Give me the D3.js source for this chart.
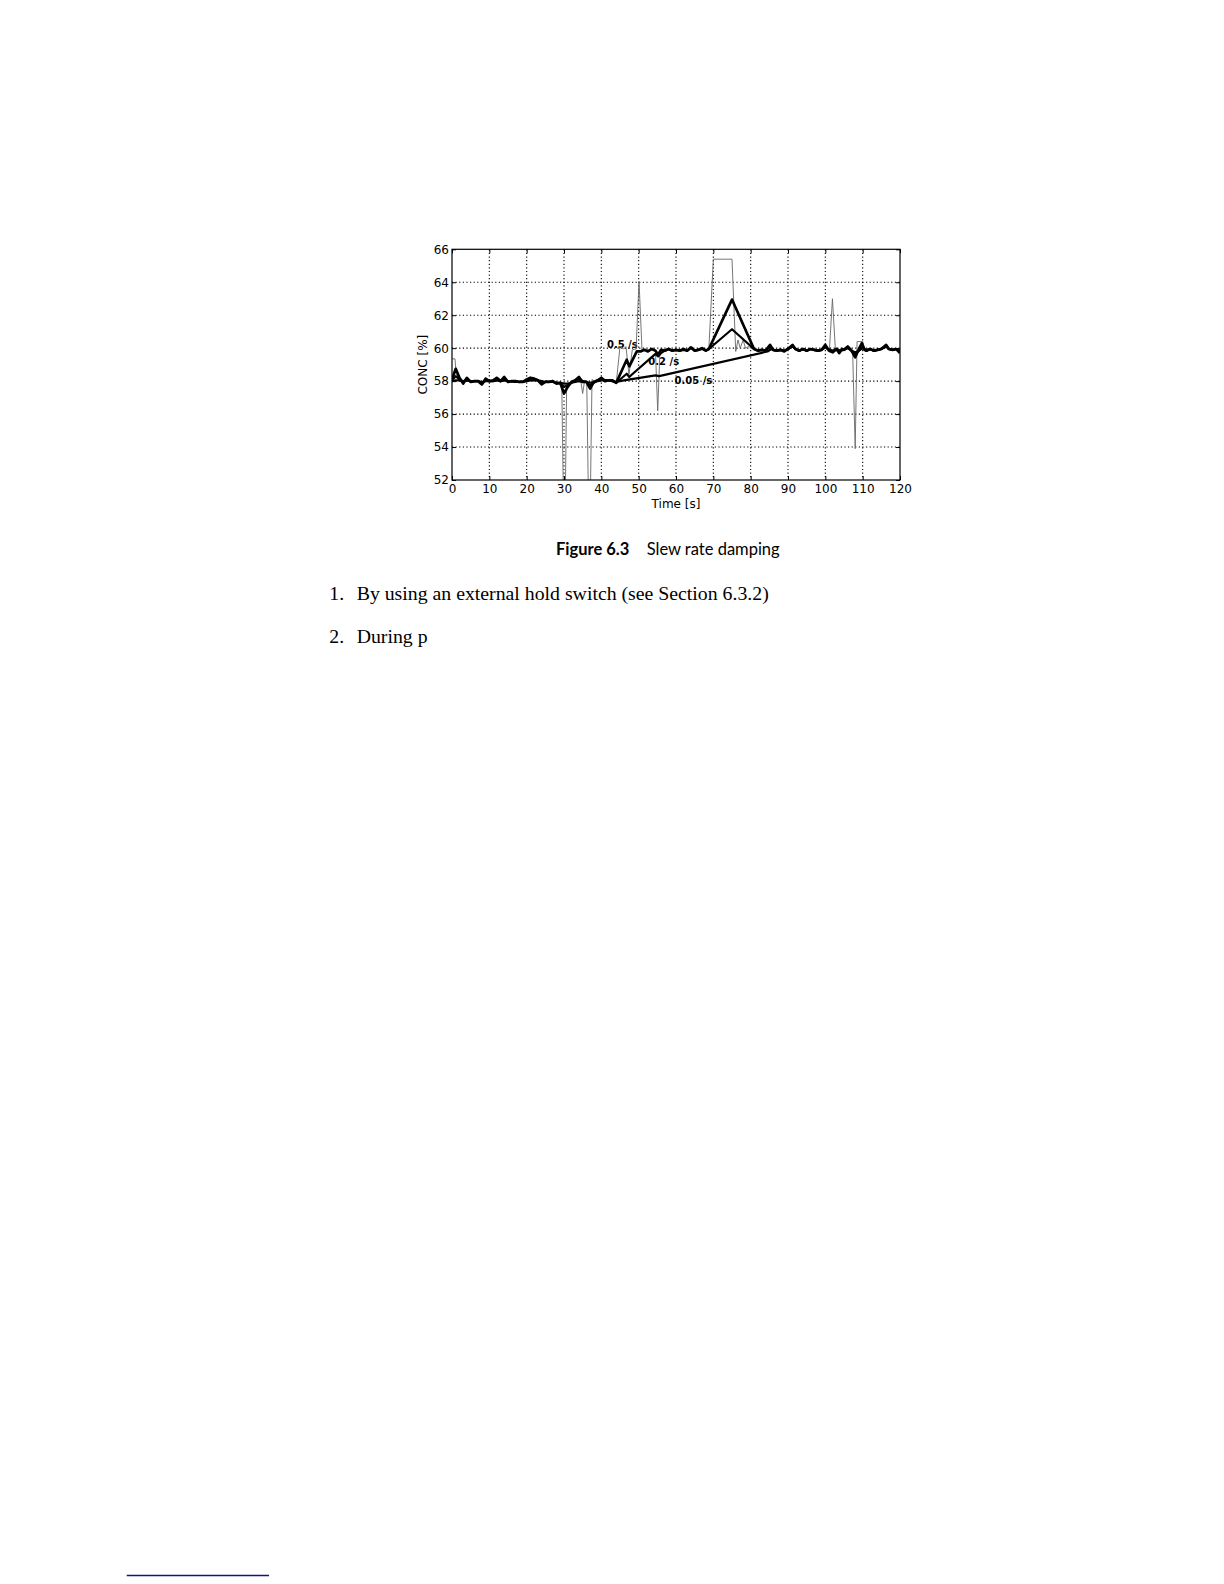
<!DOCTYPE html>
<html>
<head>
<meta charset="utf-8">
<script src="https://cdn.jsdelivr.net/npm/d3@7"></script>
<style>
  html, body { margin: 0; padding: 0; background: #fff; }
  svg { display: block; }
</style>
</head>
<body>
<svg id="page" width="1224" height="1584"></svg>
<script>
// ---------- data ----------
const xTicks = [0, 10, 20, 30, 40, 50, 60, 70, 80, 90, 100, 110, 120];
const yTicks = [52, 54, 56, 58, 60, 62, 64, 66];
const xLabel = "Time [s]";
const yLabel = "CONC [%]";

// raw measured signal [time s, CONC %]
const rawSignal = [
  [0,59.35],[0.8,59.35],[1.1,58.5],[2,58.1],[3,57.8],[4,58.25],[5,57.9],[6,58.05],[7,58.0],[8,57.75],
  [9,58.2],[10,58.0],[11,58.05],[12,58.25],[13,57.95],[14,58.3],[15,57.9],[16,58.0],[17,58.05],[18,57.9],
  [19,57.95],[20,58.1],[21,58.25],[22,58.1],[23,58.05],[24,57.75],[25,58.0],[26,57.95],[27,58.05],[28,57.85],
  [29.4,57.9],[29.9,50],[30.3,50],[30.7,57.6],[31.5,57.8],[32.5,58.0],[33,58.05],[34,58.3],[34.5,58.0],[35,57.25],
  [35.5,58.0],[36.1,57.9],[36.6,50],[37,50],[37.5,58.1],[38.5,57.95],[39,58.05],[40,58.25],[41,57.95],[42,58.1],
  [43,58.0],[44,57.9],[45,60.1],[46,59.95],[46.6,60.1],[47.4,58.4],[48.3,59.9],[49.3,59.95],[50.1,64.05],[50.9,59.85],
  [52,59.95],[53,59.85],[54,60.0],[54.5,59.8],[55.1,56.2],[55.7,59.8],[57,59.9],[58,60.0],[59,59.85],[60,59.9],
  [61,59.85],[62,59.95],[63,59.85],[64,60.05],[65,59.85],[66,59.9],[67,60.0],[68,59.85],[68.8,59.95],[70,65.4],
  [75,65.4],[76,59.8],[76.6,60.5],[77.2,60.0],[78,60.5],[78.6,60.0],[79.5,60.1],[80.5,59.95],[82,59.85],[83,59.9],
  [84,59.85],[85.2,60.2],[86,59.9],[87,59.85],[88,59.9],[89,59.8],[90,59.95],[91.2,60.2],[92,59.95],[93,59.85],
  [94,59.95],[95,59.85],[96,59.95],[97,59.9],[98,59.85],[99,59.9],[100,60.2],[101.1,59.9],[101.9,63.0],[102.7,59.9],
  [103.7,59.75],[104.5,59.95],[105,59.9],[106,60.1],[107.3,59.9],[108,53.9],[108.5,60.4],[110,60.4],[110.5,59.9],[111,59.85],
  [112,59.95],[113,59.85],[114,59.9],[115,59.95],[116.3,60.2],[117,59.95],[118,59.9],[119,59.95],[120,59.75]
];

// slew-rate damped output, 0.5 /s
const slew05 = [
  [0,58.1],[1,58.75],[2,58.2],[3,57.85],[4,58.2],[5,57.95],[6,58.0],[7,58.0],[8,57.8],[9,58.15],
  [10,58.0],[11,58.05],[12,58.2],[13,58.0],[14,58.25],[15,57.95],[16,58.0],[17,58.0],[18,57.95],[19,57.95],
  [20,58.1],[21,58.2],[22,58.15],[23,58.05],[24,57.8],[25,57.95],[26,57.95],[27,58.0],[28,57.85],[29,57.9],
  [30,57.25],[31,57.65],[32,57.95],[33,58.05],[34,58.25],[35,57.95],[36,57.95],[37,57.55],[38,57.95],[39,58.05],
  [40,58.2],[41,58.0],[42,58.05],[43,58.05],[44,57.9],[45,58.4],[46,58.9],[46.8,59.3],[47.5,58.9],[48.5,59.35],
  [49.5,59.8],[50.5,59.8],[51.5,59.9],[52.5,59.8],[53.5,59.95],[54.5,59.85],[55.2,59.6],[56,59.9],[57,59.85],[58,59.95],
  [59,59.85],[60,59.9],[61,59.85],[62,59.95],[63,59.85],[64,60.05],[65,59.85],[66,59.9],[67,60.0],[68,59.85],
  [68.8,59.95],[75,62.95],[80.9,59.95],[82,59.85],[83,59.9],[84,59.85],[85.2,60.2],[86,59.9],[87,59.85],[88,59.9],
  [89,59.8],[90,59.95],[91.2,60.2],[92,59.95],[93,59.85],[94,59.95],[95,59.85],[96,59.95],[97,59.9],[98,59.85],
  [99,59.9],[100,60.2],[101,59.85],[102,59.75],[103,59.95],[103.7,59.7],[104.5,59.95],[105,59.9],[106,60.1],[107,59.85],
  [108,59.45],[109,59.95],[109.8,60.3],[110.5,59.9],[111,59.85],[112,59.95],[113,59.85],[114,59.9],[115,59.95],[116.3,60.2],
  [117,59.95],[118,59.9],[119,59.95],[120,59.7]
];

// slew-rate damped output, 0.2 /s
const slew02 = [
  [0,58.05],[1,58.3],[2,58.1],[3,57.95],[4,58.1],[5,57.95],[6,58.0],[7,58.0],[8,57.85],[9,58.05],
  [10,58.0],[11,58.0],[12,58.1],[13,58.0],[14,58.15],[15,57.95],[16,58.0],[17,57.95],[18,57.95],[19,57.95],
  [20,58.05],[21,58.15],[22,58.15],[23,58.05],[24,57.9],[25,57.95],[26,57.95],[27,57.95],[28,57.9],[29,57.85],
  [30,57.65],[31,57.75],[32,57.9],[33,58.05],[34,58.15],[35,58.0],[36,57.95],[37,57.75],[38,57.9],[39,58.05],
  [40,58.15],[41,58.05],[42,58.05],[43,58.0],[44,57.9],[46.8,58.45],[47.5,58.25],[48.2,58.4],[54.5,59.65],[55.2,59.5],
  [56,59.7],[57,59.85],[58,59.95],[59,59.85],[60,59.9],[61,59.85],[62,59.9],[63,59.85],[64,60.0],[65,59.85],
  [66,59.9],[67,59.95],[68,59.85],[68.8,59.95],[75,61.15],[80.9,59.95],[82,59.85],[83,59.9],[84,59.85],[85.2,60.1],
  [86,59.9],[87,59.85],[88,59.9],[89,59.85],[90,59.95],[91.2,60.15],[92,59.95],[93,59.85],[94,59.95],[95,59.85],
  [96,59.95],[97,59.9],[98,59.85],[99,59.9],[100,60.1],[101,59.9],[102,59.8],[103,59.95],[103.7,59.8],[104.5,59.95],
  [105,59.9],[106,60.05],[107,59.85],[108,59.65],[109,59.85],[109.8,60.05],[110.5,59.9],[111,59.85],[112,59.95],[113,59.85],
  [114,59.9],[115,59.95],[116.3,60.15],[117,59.95],[118,59.9],[119,59.95],[120,59.8]
];

// slew-rate damped output, 0.05 /s
const slew005 = [
  [0,58.0],[1,58.05],[2,58.05],[3,58.0],[4,58.05],[5,58.0],[6,58.0],[7,58.0],[8,57.95],[9,58.0],
  [10,58.0],[11,58.0],[12,58.05],[13,58.0],[14,58.05],[15,58.0],[16,58.0],[17,57.95],[18,57.95],[19,57.95],
  [20,58.0],[21,58.05],[22,58.05],[23,58.05],[24,58.0],[25,57.95],[26,57.95],[27,57.95],[28,57.9],[29,57.9],
  [30,57.85],[31,57.85],[32,57.9],[33,57.95],[34,58.0],[35,57.95],[36,57.95],[37,57.9],[38,57.95],[39,58.0],
  [40,58.05],[41,58.05],[42,58.05],[43,58.0],[44,57.95],[46,58.05],[54.5,58.35],[55.5,58.3],[84.5,59.8],[85.5,59.95],
  [86,59.9],[87,59.85],[88,59.9],[89,59.85],[90,59.95],[91.2,60.1],[92,59.95],[93,59.85],[94,59.95],[95,59.85],
  [96,59.95],[97,59.9],[98,59.85],[99,59.9],[100,60.05],[101,59.9],[102,59.85],[103,59.95],[104,59.85],[105,59.9],
  [106,60.0],[107,59.85],[108,59.75],[109,59.85],[110,60.0],[111,59.9],[112,59.95],[113,59.85],[114,59.9],[115,59.95],
  [116.3,60.1],[117,59.95],[118,59.9],[119,59.95],[120,59.85]
];

const seriesLabels = [
  { text: "0.5 /s",  t: 41.5, v: 60.0 },
  { text: "0.2 /s",  t: 52.6, v: 58.95 },
  { text: "0.05 /s", t: 59.6, v: 57.85 }
];

// ---------- drawing ----------
(function () {
const svg = d3.select("#page");
const pLeft = 452, pRight = 900, pTop = 249.3, pBottom = 480;

const x = d3.scaleLinear().domain([0, 120]).range([pLeft, pRight]);
const y = d3.scaleLinear().domain([52, 66]).range([pBottom, pTop]);

const tickFont = "'DejaVu Sans', sans-serif";

svg.append("defs").append("clipPath").attr("id", "plotclip")
  .append("rect").attr("x", pLeft).attr("y", pTop)
  .attr("width", pRight - pLeft).attr("height", pBottom - pTop);

// grid
const grid = svg.append("g");
grid.selectAll("line.vx").data(xTicks.slice(1, -1)).join("line")
  .attr("x1", d => x(d)).attr("x2", d => x(d))
  .attr("y1", pTop).attr("y2", pBottom)
  .attr("stroke", "#000").attr("stroke-width", 1.1).attr("stroke-dasharray", "1.2,2.4");
grid.selectAll("line.hy").data(yTicks.slice(1, -1)).join("line")
  .attr("y1", d => y(d)).attr("y2", d => y(d))
  .attr("x1", pLeft).attr("x2", pRight)
  .attr("stroke", "#000").attr("stroke-width", 1.1).attr("stroke-dasharray", "1.2,2.4");

// series labels (under lines)
svg.append("g").selectAll("text").data(seriesLabels).join("text")
  .attr("x", d => x(d.t)).attr("y", d => y(d.v))
  .attr("font-family", tickFont).attr("font-weight", "bold").attr("font-size", 10)
  .attr("fill", "#000").text(d => d.text);

const line = d3.line().x(d => x(d[0])).y(d => y(d[1]));
const plot = svg.append("g").attr("clip-path", "url(#plotclip)");

plot.append("path").datum(rawSignal).attr("d", line)
  .attr("fill", "none").attr("stroke", "#666").attr("stroke-width", 0.9)
  .attr("stroke-linejoin", "round");
plot.append("path").datum(slew005).attr("d", line)
  .attr("fill", "none").attr("stroke", "#000").attr("stroke-width", 2.2)
  .attr("stroke-linejoin", "round");
plot.append("path").datum(slew02).attr("d", line)
  .attr("fill", "none").attr("stroke", "#000").attr("stroke-width", 2.2)
  .attr("stroke-linejoin", "round");
plot.append("path").datum(slew05).attr("d", line)
  .attr("fill", "none").attr("stroke", "#000").attr("stroke-width", 2.7)
  .attr("stroke-linejoin", "round");

// axes frame
svg.append("rect").attr("x", pLeft).attr("y", pTop)
  .attr("width", pRight - pLeft).attr("height", pBottom - pTop)
  .attr("fill", "none").attr("stroke", "#000").attr("stroke-width", 1.2);

// ticks (inward, all sides) via d3 axes
const xAxisB = d3.axisBottom(x).tickValues(xTicks).tickSize(-4).tickPadding(4).tickFormat(d3.format("d"));
const gxb = svg.append("g").attr("transform", `translate(0,${pBottom})`).call(xAxisB);
gxb.select(".domain").remove();
gxb.selectAll("text").attr("font-family", tickFont).attr("font-size", 12).attr("fill", "#000");

const xAxisT = d3.axisTop(x).tickValues(xTicks).tickSize(-4).tickFormat("");
const gxt = svg.append("g").attr("transform", `translate(0,${pTop})`).call(xAxisT);
gxt.select(".domain").remove();

const yAxisL = d3.axisLeft(y).tickValues(yTicks).tickSize(-4).tickPadding(3).tickFormat(d3.format("d"));
const gyl = svg.append("g").attr("transform", `translate(${pLeft},0)`).call(yAxisL);
gyl.select(".domain").remove();
gyl.selectAll("text").attr("font-family", tickFont).attr("font-size", 12).attr("fill", "#000");

const yAxisR = d3.axisRight(y).tickValues(yTicks).tickSize(-4).tickFormat("");
const gyr = svg.append("g").attr("transform", `translate(${pRight},0)`).call(yAxisR);
gyr.select(".domain").remove();

// axis labels
svg.append("text").attr("x", (pLeft + pRight) / 2).attr("y", 508.3)
  .attr("text-anchor", "middle").attr("font-family", tickFont).attr("font-size", 12)
  .attr("fill", "#000").text(xLabel);
svg.append("text")
  .attr("transform", `translate(427,${(pTop + pBottom) / 2}) rotate(-90)`)
  .attr("text-anchor", "middle").attr("font-family", tickFont).attr("font-size", 12)
  .attr("fill", "#000").text(yLabel);

// caption
svg.append("text").attr("x", 556).attr("y", 555)
  .attr("font-family", "Lato, 'Open Sans', sans-serif").attr("font-size", 16.5)
  .attr("font-weight", "bold").attr("fill", "#000").text("Figure 6.3");
svg.append("text").attr("x", 646.7).attr("y", 555)
  .attr("font-family", "Lato, 'Open Sans', sans-serif").attr("font-size", 16.5).attr("fill", "#000")
  .text("Slew rate damping");

// body text list
const serif = "'Liberation Serif', 'DejaVu Serif', serif";
const items = [
  { n: "1.", t: "By using an external hold switch (see Section 6.3.2)", y: 600 },
  { n: "2.", t: "During p", y: 643.3 }
];
items.forEach(it => {
  svg.append("text").attr("x", 329.3).attr("y", it.y)
    .attr("font-family", serif).attr("font-size", 19.8).attr("fill", "#000").text(it.n);
  svg.append("text").attr("x", 356.7).attr("y", it.y)
    .attr("font-family", serif).attr("font-size", 19.8).attr("fill", "#000").text(it.t);
});

// footnote rule
svg.append("line").attr("x1", 126.7).attr("x2", 269).attr("y1", 1575.5).attr("y2", 1575.5)
  .attr("stroke", "#14147f").attr("stroke-width", 1.6);
})();
</script>
</body>
</html>
